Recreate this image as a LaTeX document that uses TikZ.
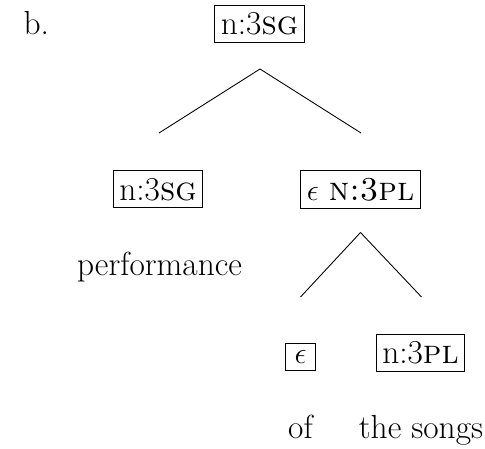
\documentclass[tikz,border=0pt]{standalone}
\begin{document}
\begin{tikzpicture}[line width=0.5pt,
		box/.style={draw, inner xsep=3.5pt, inner ysep=4.2pt, anchor=base},
		word/.style={anchor=base}]
	\useasboundingbox (0, 0) rectangle (9.70, -8.98);
	\fontsize{19}{23}\selectfont
	
	\node[anchor=base west] (label) at (0.24, -0.70) {b.};
	
	% top level
	\node[box] (top) at (5.19, -0.70) {n:3\textsc{sg}};
	\coordinate (a1) at (5.20, -1.38);
	\coordinate (l1) at (3.18, -2.66);
	\coordinate (r1) at (7.22, -2.66);
	
	% second level
	\node[box] (left) at (3.16, -4.00) {n:3\textsc{sg}};
	\node[box] (right) at (7.21, -4.00) {$\epsilon$ \textsc{n:3pl}};
	\node[word] (perf) at (3.19, -5.50) {performance};
	\coordinate (a2) at (7.21, -4.65);
	\coordinate (l2) at (6.01, -5.94);
	\coordinate (r2) at (8.43, -5.94);
	
	% third level
	\node[box, minimum width=0.6cm] (eps) at (6.01, -7.27) {$\epsilon$};
	\node[box] (pl) at (8.41, -7.27) {n:3\textsc{pl}};
	\node[word] (of) at (6.01, -8.76) {of};
	\node[word] (songs) at (8.42, -8.76) {the songs};
	
	% branches
	\foreach \p/\c in {a1/l1, a1/r1, a2/l2, a2/r2}{
		\draw (\p) -- (\c);
	}
\end{tikzpicture}
\end{document}
